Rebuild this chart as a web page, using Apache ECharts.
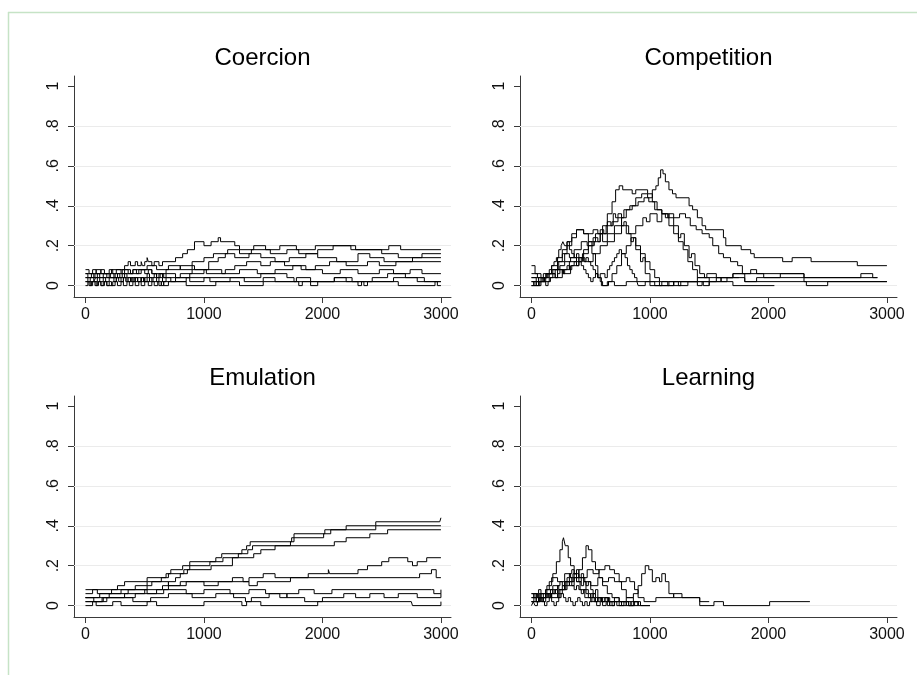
<!DOCTYPE html>
<html><head><meta charset="utf-8">
<script src="https://cdn.jsdelivr.net/npm/echarts@6/dist/echarts.min.js"></script>
<style>html,body{margin:0;padding:0;background:#fff}#c{width:917px;height:675px}</style>
</head><body><div id="c"></div>
<script>
const panelTitles = ['Coercion', 'Competition', 'Emulation', 'Learning'];
const xTicks = [0, 1000, 2000, 3000];
const yTicks = [0, 0.2, 0.4, 0.6, 0.8, 1];
const gridVals = [0, 0.2, 0.4, 0.6, 0.8];

// Coercion
const coer1 = [[0,0.06],[90,0.08],[130,0.06],[220,0.08],[330,0.1],[360,0.12],[380,0.1],[420,0.12],[440,0.1],[470,0.12],[480,0.1],[500,0.12],[520,0.14],[530,0.12],[560,0.1],[580,0.12],[620,0.1],[650,0.12],[760,0.14],[820,0.16],[860,0.18],[920,0.22],[1000,0.2],[1060,0.22],[1120,0.24],[1140,0.22],[1260,0.2],[1300,0.18],[1420,0.2],[1520,0.18],[1640,0.2],[1780,0.18],[1940,0.2],[2240,0.18],[2560,0.2],[2660,0.18],[3000,0.18]];
const coer2 = [[0,0.04],[80,0.06],[200,0.04],[310,0.08],[380,0.06],[450,0.08],[520,0.1],[600,0.08],[700,0.1],[800,0.08],[900,0.12],[1000,0.14],[1080,0.16],[1200,0.18],[1300,0.16],[1400,0.18],[1560,0.16],[1700,0.18],[1800,0.16],[1960,0.18],[2090,0.2],[2280,0.18],[2500,0.16],[2640,0.14],[2840,0.16],[3000,0.16]];
const coer3 = [[0,0.02],[100,0.04],[250,0.06],[400,0.08],[560,0.06],[680,0.08],[800,0.1],[920,0.08],[1040,0.12],[1120,0.14],[1180,0.16],[1260,0.14],[1380,0.16],[1480,0.14],[1600,0.12],[1720,0.14],[1860,0.16],[1960,0.14],[2120,0.12],[2300,0.16],[2400,0.14],[2520,0.12],[2760,0.14],[3000,0.14]];
const coer4 = [[0,0.08],[30,0.06],[60,0.08],[90,0.06],[130,0.08],[160,0.06],[200,0.08],[230,0.06],[260,0.08],[300,0.06],[330,0.08],[360,0.06],[400,0.08],[430,0.06],[470,0.08],[500,0.06],[530,0.08],[560,0.06],[600,0.04],[630,0.06],[660,0.04],[800,0.06],[900,0.08],[1020,0.06],[1180,0.08],[1260,0.1],[1360,0.12],[1480,0.1],[1560,0.12],[1680,0.1],[1820,0.08],[1940,0.1],[2060,0.12],[2200,0.1],[2380,0.12],[2480,0.1],[2620,0.12],[3000,0.12]];
const coer5 = [[0,0.04],[20,0.02],[40,0.04],[70,0.02],[85,0.04],[120,0.02],[150,0.04],[170,0.02],[200,0.04],[240,0.02],[260,0.04],[300,0.02],[320,0.04],[350,0.02],[390,0.04],[420,0.02],[440,0.04],[470,0.02],[500,0.04],[520,0.06],[540,0.04],[580,0.06],[600,0.04],[620,0.06],[650,0.04],[680,0.06],[760,0.04],[880,0.06],[1000,0.08],[1150,0.06],[1300,0.08],[1450,0.06],[1600,0.08],[1750,0.1],[1860,0.08],[2000,0.06],[2150,0.08],[2300,0.06],[2480,0.08],[2600,0.06],[2740,0.08],[2840,0.06],[3000,0.06]];
const coer6 = [[0,0.02],[30,0],[50,0.02],[80,0],[100,0.02],[130,0],[150,0.02],[180,0],[230,0.02],[260,0.04],[280,0.02],[320,0.04],[340,0.02],[360,0.04],[400,0.02],[420,0.04],[440,0.02],[470,0.04],[490,0.02],[520,0.04],[540,0.02],[570,0.04],[600,0.02],[620,0.04],[650,0.02],[680,0.04],[720,0.02],[850,0.04],[1050,0.02],[1220,0.04],[1340,0.02],[1500,0.04],[1600,0.02],[1780,0.04],[1900,0.02],[2100,0.04],[2250,0.02],[2420,0.04],[2550,0.06],[2700,0.04],[2860,0.02],[3000,0.02]];
const coer7 = [[0,0],[20,0.02],[40,0],[60,0.02],[90,0],[110,0.02],[130,0],[160,0.02],[180,0],[200,0.02],[220,0],[250,0.02],[270,0],[300,0.02],[320,0],[350,0.02],[370,0],[400,0.02],[420,0],[450,0.02],[470,0],[500,0.02],[530,0],[560,0.02],[580,0],[610,0.02],[640,0],[660,0.02],[760,0.04],[880,0.02],[1000,0.04],[1480,0.06],[1700,0.04],[1760,0.02],[1800,0],[1830,0.02],[2100,0.04],[2200,0.02],[2350,0],[2380,0.02],[2600,0.04],[2800,0.02],[3000,0.02]];
const coer8 = [[0,0.06],[20,0.04],[50,0.06],[70,0.04],[100,0.06],[120,0.04],[150,0.06],[180,0.04],[210,0.06],[240,0.04],[270,0.06],[290,0.04],[330,0.06],[350,0.04],[380,0.02],[410,0.04],[440,0.02],[470,0.04],[500,0.02],[540,0.04],[560,0.02],[620,0],[640,0.02],[660,0],[700,0.02],[850,0],[1100,0.02],[1300,0],[1500,0.02],[1900,0],[1960,0.02],[2300,0],[2330,0.02],[2640,0],[2950,0.02],[2970,0],[3000,0]];

// Competition
const comp1 = [[0,0.04],[40,0.02],[90,0.04],[150,0.06],[200,0.08],[240,0.1],[280,0.12],[330,0.14],[380,0.12],[430,0.16],[480,0.2],[530,0.22],[580,0.26],[630,0.3],[680,0.32],[730,0.34],[780,0.38],[830,0.4],[880,0.44],[930,0.46],[980,0.44],[1020,0.48],[1050,0.5],[1070,0.54],[1090,0.58],[1110,0.56],[1130,0.52],[1160,0.48],[1190,0.46],[1220,0.44],[1330,0.4],[1360,0.38],[1400,0.34],[1440,0.3],[1470,0.28],[1620,0.24],[1640,0.2],[1770,0.18],[1850,0.16],[1880,0.14],[2120,0.12],[2200,0.14],[2360,0.12],[2750,0.1],[3000,0.1]];
const comp2 = [[0,0.1],[30,0.06],[80,0.04],[130,0.06],[180,0.08],[220,0.12],[260,0.16],[300,0.2],[340,0.24],[380,0.28],[440,0.26],[520,0.28],[560,0.26],[600,0.3],[640,0.36],[680,0.42],[710,0.48],[740,0.5],[770,0.48],[850,0.46],[880,0.48],[980,0.46],[1020,0.42],[1060,0.38],[1100,0.36],[1160,0.3],[1200,0.26],[1240,0.22],[1280,0.18],[1320,0.12],[1360,0.08],[1400,0.04],[1480,0.06],[1560,0.04],[1700,0.06],[1960,0.04],[2100,0.06],[2300,0.04],[2920,0.04]];
const comp3 = [[0,0.02],[60,0.04],[140,0.06],[200,0.04],[260,0.08],[320,0.12],[380,0.14],[440,0.18],[480,0.22],[540,0.26],[600,0.22],[640,0.26],[700,0.3],[760,0.34],[800,0.38],[850,0.4],[900,0.42],[950,0.44],[990,0.42],[1040,0.38],[1100,0.36],[1150,0.34],[1250,0.36],[1300,0.34],[1340,0.3],[1390,0.28],[1440,0.26],[1500,0.24],[1530,0.2],[1580,0.16],[1620,0.14],[1680,0.12],[1740,0.1],[1780,0.06],[1800,0.02],[1900,0.04],[2300,0.02],[3000,0.02]];
const comp4 = [[0,0.06],[50,0.04],[100,0.06],[170,0.08],[230,0.12],[280,0.16],[320,0.14],[360,0.18],[420,0.22],[470,0.2],[520,0.24],[560,0.22],[580,0.28],[610,0.26],[640,0.32],[670,0.3],[690,0.36],[710,0.34],[730,0.36],[760,0.3],[780,0.32],[800,0.26],[840,0.22],[860,0.24],[880,0.18],[920,0.12],[940,0.14],[960,0.06],[1000,0.02],[1040,0],[1100,0.02],[1200,0],[1260,0.02],[1400,0.04],[1600,0.02],[1700,0],[2050,0]];
const comp5 = [[0,0],[70,0.02],[150,0.04],[220,0.08],[270,0.06],[330,0.1],[400,0.14],[450,0.12],[520,0.16],[580,0.2],[640,0.22],[700,0.26],[760,0.3],[820,0.26],[880,0.3],[940,0.34],[970,0.32],[1000,0.36],[1060,0.32],[1100,0.36],[1130,0.34],[1160,0.36],[1200,0.3],[1240,0.24],[1260,0.26],[1290,0.2],[1330,0.14],[1350,0.16],[1380,0.1],[1420,0.06],[1460,0.04],[1500,0.02],[1560,0.04],[1800,0.02],[2320,0],[2500,0.02],[3000,0.02]];
const comp6 = [[0,0.04],[60,0.02],[120,0.06],[170,0.1],[220,0.14],[260,0.18],[300,0.22],[340,0.26],[380,0.28],[440,0.26],[480,0.22],[510,0.16],[540,0.1],[560,0.04],[590,0],[640,0.02],[680,0.06],[720,0.1],[760,0.16],[800,0.2],[840,0.24],[880,0.2],[920,0.16],[960,0.12],[1000,0.08],[1040,0.04],[1080,0],[1160,0.02],[1240,0],[1320,0.02],[1450,0],[1500,0.02],[1650,0.04],[1750,0.04]];
const comp7 = [[0,0.02],[20,0],[40,0.02],[60,0],[80,0.02],[110,0.04],[130,0.06],[150,0.08],[170,0.1],[190,0.12],[210,0.14],[230,0.18],[250,0.2],[265,0.22],[280,0.2],[300,0.22],[320,0.18],[340,0.16],[360,0.14],[380,0.16],[400,0.12],[420,0.1],[440,0.08],[460,0.06],[480,0.04],[500,0.02],[520,0.04],[540,0.06],[560,0.04],[580,0.06],[620,0.04],[640,0.08],[660,0.1],[680,0.12],[700,0.14],[720,0.16],[740,0.18],[760,0.16],[790,0.14],[810,0.1],[830,0.08],[850,0.06],[870,0.04],[890,0.02],[900,0],[960,0.02],[1000,0],[1200,0.02],[1400,0],[1440,0.02],[1500,0]];
const comp8 = [[0,0],[20,0.02],[40,0],[60,0.02],[80,0.04],[100,0.02],[120,0],[140,0.02],[160,0.04],[180,0.06],[200,0.04],[220,0.06],[240,0.08],[260,0.06],[280,0.08],[300,0.1],[320,0.08],[340,0.1],[360,0.12],[380,0.1],[400,0.12],[420,0.14],[440,0.12],[460,0.14],[480,0.12],[500,0.1],[520,0.08],[540,0.06],[560,0.04],[580,0.02],[600,0],[650,0.02],[700,0],[800,0.02],[1150,0],[1200,0.02],[1600,0.04],[1700,0.06],[1850,0.08],[1900,0.06],[2300,0.04],[2780,0.06],[2880,0.04],[2920,0.04]];

// Emulation
const emul1 = [[0,0.06],[60,0.08],[270,0.1],[330,0.12],[520,0.14],[680,0.16],[720,0.18],[820,0.2],[880,0.22],[1100,0.24],[1150,0.26],[1320,0.28],[1360,0.3],[1390,0.32],[1740,0.34],[1760,0.36],[2020,0.38],[2200,0.4],[2450,0.42],[2990,0.42],[3000,0.44]];
const emul2 = [[0,0.04],[200,0.06],[360,0.08],[520,0.1],[560,0.12],[640,0.14],[700,0.16],[830,0.18],[880,0.2],[1050,0.22],[1160,0.24],[1290,0.26],[1370,0.28],[1410,0.3],[1730,0.32],[1760,0.34],[2010,0.36],[2070,0.38],[2450,0.4],[3000,0.4]];
const emul3 = [[0,0.02],[180,0.04],[420,0.06],[600,0.08],[700,0.12],[760,0.14],[800,0.16],[860,0.18],[1060,0.2],[1240,0.24],[1420,0.26],[1480,0.28],[1600,0.3],[2100,0.32],[2200,0.34],[2400,0.36],[2550,0.38],[3000,0.38]];
const emul4 = [[0,0.04],[120,0.06],[300,0.08],[420,0.1],[520,0.12],[700,0.1],[850,0.12],[1240,0.14],[1330,0.12],[1380,0.14],[1500,0.16],[1600,0.14],[1880,0.16],[2050,0.18],[2060,0.16],[2300,0.18],[2380,0.2],[2500,0.22],[2560,0.24],[2720,0.22],[2760,0.2],[2800,0.22],[2880,0.24],[3000,0.24]];
const emul5 = [[0,0.02],[150,0.04],[330,0.06],[500,0.08],[650,0.1],[800,0.12],[1000,0.1],[1120,0.12],[1380,0.1],[1450,0.12],[1730,0.14],[2800,0.14],[2820,0.16],[2920,0.18],[2960,0.14],[3000,0.14]];
const emul6 = [[0,0.08],[100,0.06],[220,0.08],[520,0.06],[660,0.08],[850,0.06],[1000,0.08],[1220,0.06],[1380,0.08],[1520,0.06],[1640,0.04],[1700,0.06],[1800,0.08],[1930,0.06],[2080,0.08],[2920,0.08],[2940,0.06],[3000,0.08]];
const emul7 = [[0,0.04],[70,0.02],[140,0.04],[400,0.02],[550,0.04],[700,0.06],[900,0.04],[1100,0.06],[1250,0.04],[1350,0.02],[1400,0.04],[1550,0.06],[1700,0.04],[1850,0.02],[2000,0.04],[2180,0.06],[2280,0.04],[2400,0.06],[2520,0.04],[2640,0.06],[2800,0.04],[3000,0.06]];
const emul8 = [[0,0],[60,0.02],[90,0],[230,0.02],[300,0],[520,0.02],[600,0],[1000,0.02],[1320,0],[1360,0.02],[1480,0],[1960,0.02],[2750,0.02],[2760,0],[3000,0.02]];

// Learning
const lear1 = [[0,0.04],[40,0.02],[80,0.06],[120,0.08],[150,0.12],[180,0.16],[210,0.22],[240,0.28],[260,0.32],[270,0.34],[285,0.3],[310,0.24],[330,0.2],[360,0.16],[380,0.12],[410,0.08],[450,0.04],[500,0.02],[560,0.04],[640,0.02],[720,0],[760,0.02],[820,0],[900,0]];
const lear2 = [[0,0.02],[60,0.04],[120,0.06],[170,0.04],[230,0.08],[280,0.12],[320,0.1],[360,0.14],[400,0.18],[430,0.24],[460,0.3],[480,0.28],[510,0.22],[540,0.18],[570,0.14],[600,0.1],[640,0.06],[680,0.04],[740,0.02],[800,0.04],[860,0.02],[920,0],[1000,0]];
const lear3 = [[0,0.06],[50,0.04],[120,0.08],[180,0.1],[230,0.08],[290,0.12],[350,0.16],[400,0.14],[450,0.12],[500,0.1],[560,0.14],[600,0.12],[650,0.14],[700,0.12],[760,0.08],[800,0.04],[860,0.06],[900,0.1],[930,0.16],[960,0.2],[990,0.18],[1020,0.12],[1050,0.14],[1080,0.12],[1100,0.16],[1130,0.12],[1160,0.06],[1200,0.04],[1420,0],[1540,0.02],[1620,0],[2010,0.02],[2350,0.02]];
const lear4 = [[0,0.02],[70,0.06],[130,0.1],[170,0.14],[220,0.12],[280,0.16],[330,0.14],[380,0.12],[420,0.14],[470,0.18],[520,0.16],[570,0.18],[620,0.2],[660,0.18],[700,0.16],[740,0.12],[800,0.14],[830,0.12],[870,0.08],[900,0.04],[950,0.02],[1050,0.04],[1200,0.06],[1270,0.04],[1420,0.02],[1500,0.02]];
const lear5 = [[0,0.04],[20,0.06],[40,0.04],[60,0.06],[80,0.04],[100,0.02],[120,0.04],[140,0.06],[160,0.08],[180,0.06],[200,0.08],[220,0.1],[240,0.12],[260,0.1],[280,0.12],[300,0.14],[320,0.16],[340,0.18],[360,0.16],[380,0.18],[400,0.14],[420,0.16],[440,0.12],[460,0.1],[480,0.12],[500,0.08],[520,0.06],[540,0.08],[560,0.04],[590,0.02],[620,0.04],[660,0.02],[700,0.04],[740,0.02],[800,0],[840,0.02],[900,0]];
const lear6 = [[0,0.02],[20,0.04],[40,0.02],[60,0.04],[80,0.02],[100,0.04],[130,0.06],[150,0.04],[170,0.06],[200,0.08],[220,0.06],[240,0.08],[260,0.1],[280,0.08],[300,0.1],[320,0.12],[340,0.1],[360,0.08],[380,0.1],[400,0.08],[420,0.06],[440,0.08],[460,0.06],[480,0.04],[500,0.06],[520,0.04],[540,0.02],[560,0.04],[590,0.02],[620,0.04],[650,0.02],[680,0],[700,0.02],[740,0],[780,0.02],[820,0],[860,0.02],[900,0],[1000,0]];
const lear7 = [[0,0.06],[20,0.04],[40,0.06],[60,0.08],[80,0.06],[100,0.04],[120,0.06],[140,0.04],[160,0.06],[180,0.08],[200,0.06],[220,0.04],[240,0.06],[260,0.08],[280,0.1],[300,0.12],[320,0.14],[340,0.12],[360,0.16],[380,0.14],[400,0.12],[420,0.1],[440,0.12],[460,0.08],[480,0.06],[500,0.04],[520,0.06],[540,0.04],[560,0.02],[580,0.04],[600,0.02],[640,0],[660,0.02],[700,0]];
const lear8 = [[0,0],[15,0.02],[30,0],[50,0.02],[70,0.04],[90,0.02],[110,0],[130,0.02],[150,0.04],[170,0.02],[190,0],[210,0.02],[230,0.04],[250,0.06],[270,0.04],[290,0.02],[310,0.04],[330,0.02],[350,0],[370,0.02],[390,0.04],[410,0.02],[430,0],[450,0.02],[470,0],[490,0.02],[510,0.04],[530,0.02],[550,0],[580,0.02],[600,0],[630,0.02],[660,0],[700,0.02],[760,0],[800,0.02],[840,0],[870,0.02],[900,0]];

const panelSeries = [
  [coer1, coer2, coer3, coer4, coer5, coer6, coer7, coer8],
  [comp1, comp2, comp3, comp4, comp5, comp6, comp7, comp8],
  [emul1, emul2, emul3, emul4, emul5, emul6, emul7, emul8],
  [lear1, lear2, lear3, lear4, lear5, lear6, lear7, lear8]
];

const FONT = "'Liberation Sans', Arial, sans-serif";
const layout = [
  {left: 74, top: 76}, {left: 520, top: 76},
  {left: 74, top: 396}, {left: 520, top: 396}
];
const W = 377, H = 221;

const grids = [], xAxes = [], yAxes = [], titles = [], series = [];
layout.forEach((p, i) => {
  grids.push({left: p.left, top: p.top, width: W, height: H, containLabel: false});
  titles.push({
    text: panelTitles[i], left: p.left + W / 2, top: p.top - 30, textAlign: 'center', padding: 0,
    textStyle: {fontFamily: FONT, fontSize: 24, fontWeight: 'normal', color: '#000'}
  });
  xAxes.push({
    type: 'value', gridIndex: i, min: -97, max: 3085,
    axisLine: {show: true, onZero: false, lineStyle: {color: '#3a3a3a', width: 1}},
    axisTick: {show: true, length: 6, customValues: xTicks, lineStyle: {color: '#3a3a3a'}},
    axisLabel: {customValues: xTicks, margin: 10, fontFamily: FONT, fontSize: 16, color: '#111',
      formatter: v => String(Math.round(v))},
    splitLine: {show: false}
  });
  yAxes.push({
    type: 'value', gridIndex: i, min: -0.057, max: 1.05,
    axisLine: {show: true, onZero: false, lineStyle: {color: '#3a3a3a', width: 1}},
    axisTick: {show: true, length: 6, customValues: yTicks, lineStyle: {color: '#3a3a3a'}},
    axisLabel: {
      customValues: yTicks, rotate: 90, margin: 12, fontFamily: FONT, fontSize: 16, color: '#111',
      formatter: v => (v === 0 ? '0' : v >= 1 ? '1' : String(+v.toFixed(1)).replace(/^0/, ''))
    },
    splitLine: {show: false}
  });
  panelSeries[i].forEach((d, k) => {
    const s = {
      type: 'line', xAxisIndex: i, yAxisIndex: i, data: d, step: 'end', symbol: 'none',
      showSymbol: false, z: 3, silent: true,
      lineStyle: {color: '#000', width: 1}
    };
    if (k === 0) {
      s.markLine = {
        silent: true, symbol: 'none', z: 1, label: {show: false},
        lineStyle: {color: '#ebebeb', width: 1.2, type: 'solid'},
        emphasis: {disabled: true},
        data: gridVals.map(v => ({yAxis: v}))
      };
    }
    series.push(s);
  });
});

const chart = echarts.init(document.getElementById('c'), null, {renderer: 'canvas'});
chart.setOption({
  animation: false,
  backgroundColor: '#fff',
  title: titles,
  grid: grids,
  xAxis: xAxes,
  yAxis: yAxes,
  series: series,
  graphic: [
    {type: 'line', silent: true, shape: {x1: 8, y1: 12.5, x2: 917, y2: 12.5}, style: {stroke: '#c6e3c6', lineWidth: 1.5}},
    {type: 'line', silent: true, shape: {x1: 8.5, y1: 12, x2: 8.5, y2: 675}, style: {stroke: '#c6e3c6', lineWidth: 1.5}}
  ]
});
</script>
</body></html>
